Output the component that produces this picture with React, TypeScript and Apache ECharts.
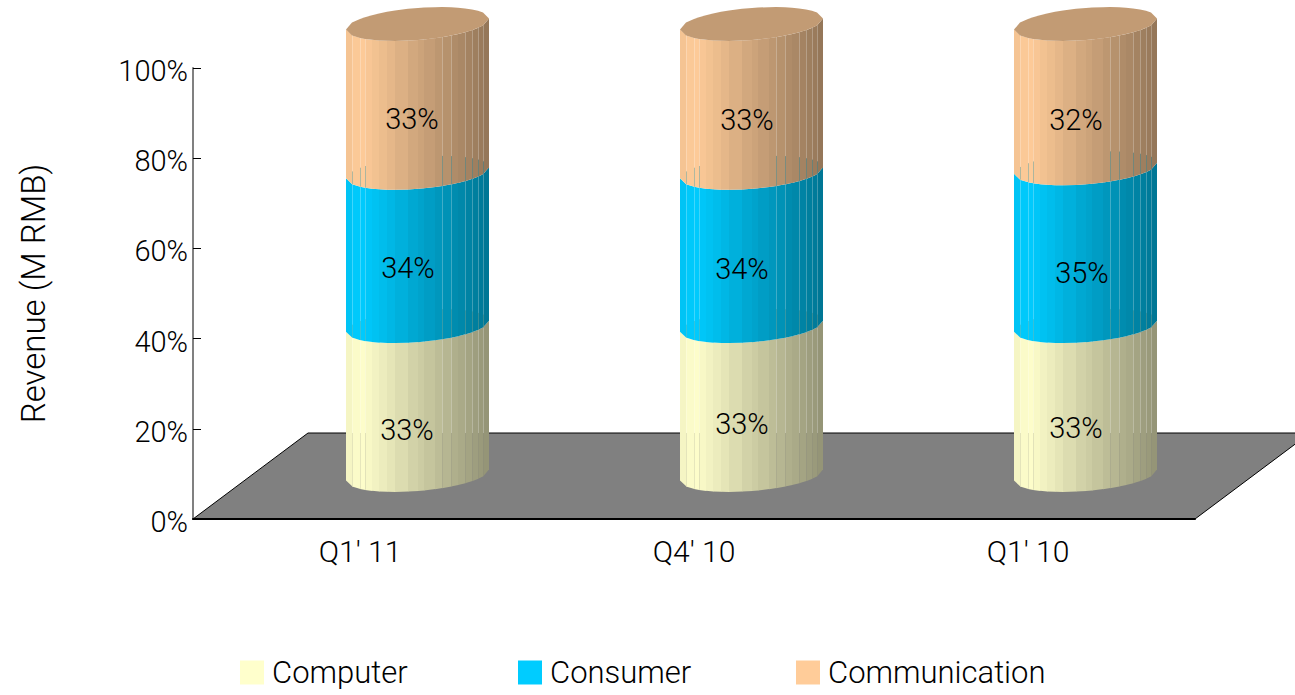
import React, { useEffect, useRef } from "react";
import * as echarts from "echarts";

const categories = ["Q1' 11", "Q4' 10", "Q1' 10"];
const computer = [33, 33, 33];
const consumer = [34, 34, 35];
const communication = [33, 33, 32];
const seriesNames = ["Computer", "Consumer", "Communication"];
const valueTicks = [0, 20, 40, 60, 80, 100];

// Presentation constants for the cylinders
const sectionColors = [
  [255, 255, 204],
  [0, 204, 255],
  [255, 204, 153],
];
const FONT = "Roboto";
const TEXT_WEIGHT = 300;
const CYL_SHIFT_X = 57.5;
const CYL_SHIFT_Y = -44;
const RADIUS_X = 71.5;
const RADIUS_Y = 16;
const TILT = 5.5;
const FLOOR_DX = 115;
const FLOOR_DY = -86;
const FLOOR_BACK_Y = 433;
const legendLefts = [235, 513, 791];
const facetEdges = [
  -71.5, -65.5, -57.5, -52.5, -45.5, -38.5, -30.5, -22.5, -9.5, 0.5, 6.5, 17.5, 24.5, 33.5, 40.5,
  47.5, 54.5, 60.5, 65.5, 71.5,
];
const seamEdges = [-65.5, -57.5, -52.5, 24.5, 33.5, 47.5, 54.5, 60.5, 65.5];
// Hand placement of the percentage labels: [dx, dy] per category and section
const labelShift = [
  [[47, 13], [48, 2], [52, 5]],
  [[48, 7], [48, 3], [53, 6]],
  [[48, 11], [54, 10], [48, 8]],
];

const stacks = [computer, consumer, communication];

const rimOffset = (dx: number, front: boolean) => {
  const c = Math.max(-1, Math.min(1, dx / RADIUS_X));
  const s = Math.sqrt(1 - c * c) * (front ? 1 : -1);
  return CYL_SHIFT_Y + RADIUS_Y * s - TILT * c;
};

const shade = (rgb: number[], k: number) =>
  `rgb(${rgb.map((v) => Math.round(v * k)).join(",")})`;

const facetLight = (dx: number) => {
  const x = dx + 57.5;
  if (x < 0) return 1 + x * 0.0035;
  return 1 - x * 0.0033;
};

const sectionBase = (section: number, cat: number) => {
  let sum = 0;
  for (let s = 0; s < section; s++) sum += stacks[s][cat];
  return sum;
};

const renderFloor = (params: any) => {
  const { x, y, width, height } = params.coordSys;
  const bottom = y + height;
  return {
    type: "polygon",
    shape: {
      points: [
        [x, bottom],
        [x + FLOOR_DX, bottom + FLOOR_DY],
        [x + width + FLOOR_DX, bottom + FLOOR_DY],
        [x + width, bottom],
      ],
    },
    style: { fill: "#808080", stroke: "#000", lineWidth: 1 },
  };
};

const renderSection = (section: number) => (_params: any, api: any) => {
  const cat = api.value(0);
  const base = sectionBase(section, cat);
  const top = base + api.value(1);
  const [cx0, yBase] = api.coord([cat, base]);
  const [, yTop] = api.coord([cat, top]);
  const cx = cx0 + CYL_SHIFT_X;
  const rgb = sectionColors[section];
  const children: any[] = [];
  for (let i = 0; i < facetEdges.length - 1; i++) {
    const a = facetEdges[i];
    const b = facetEdges[i + 1];
    const bOver = Math.min(b + 0.4, RADIUS_X);
    children.push({
      type: "polygon",
      shape: {
        points: [
          [cx + a, yTop + rimOffset(a, true)],
          [cx + bOver, yTop + rimOffset(bOver, true)],
          [cx + bOver, yBase + rimOffset(bOver, true)],
          [cx + a, yBase + rimOffset(a, true)],
        ],
      },
      style: { fill: shade(rgb, facetLight((a + b) / 2)) },
    });
  }
  if (section === stacks.length - 1) {
    const front = facetEdges.map((dx) => [cx + dx, yTop + rimOffset(dx, true)]);
    const back = [...facetEdges].reverse().map((dx) => [cx + dx, yTop + rimOffset(dx, false)]);
    children.push({
      type: "polygon",
      shape: { points: [...front, ...back] },
      style: { fill: shade(rgb, 0.76) },
    });
  }
  return { type: "group", children };
};

// Thin pale lines between facets, tinted by whatever sits behind the shell
const renderSeams = (_params: any, api: any) => {
  const cat = api.value(0);
  const [cx0] = api.coord([cat, 0]);
  const cx = cx0 + CYL_SHIFT_X;
  const children: any[] = [];
  const line = (x: number, y1: number, y2: number, stroke: string, opacity: number) => ({
    type: "line",
    shape: { x1: x, y1, x2: x, y2 },
    style: { stroke, lineWidth: 1, opacity },
  });
  seamEdges.forEach((dx) => {
    const x = Math.round(cx + dx) + 0.5;
    stacks.forEach((_, s) => {
      const base = sectionBase(s, cat);
      const yBase = api.coord([cat, base])[1];
      const yTop = api.coord([cat, base + stacks[s][cat]])[1];
      const yFront = yBase + rimOffset(dx, true);
      const yBack = yBase + rimOffset(dx, false);
      const yUp = yTop + rimOffset(dx, true);
      if (s === 0) {
        children.push(line(x, yUp, FLOOR_BACK_Y, "#fff", 0.25));
        children.push(line(x, FLOOR_BACK_Y, yFront, "#808080", 0.18));
      } else {
        children.push(line(x, yUp, yBack, "#fff", 0.25));
        children.push(line(x, yBack, yFront, shade(sectionColors[s - 1], 0.7), 0.3));
      }
    });
  });
  return { type: "group", children };
};

const renderLabel = (section: number) => (_params: any, api: any) => {
  const cat = api.value(0);
  const base = sectionBase(section, cat);
  const value = api.value(1);
  const [x, y] = api.coord([cat, base + value / 2]);
  const [dx, dy] = labelShift[cat][section];
  return {
    type: "text",
    style: {
      text: `${value}%`,
      x: x + dx,
      y: y + CYL_SHIFT_Y + RADIUS_Y + dy,
      align: "center",
      verticalAlign: "middle",
      fill: "#000",
      font: `${TEXT_WEIGHT} 29px ${FONT}`,
    },
  };
};

const rows = (values: number[]) => values.map((v, i) => [i, v]);

export default function App() {
  const ref = useRef<HTMLDivElement>(null);

  useEffect(() => {
    const chart = echarts.init(ref.current!, undefined, { renderer: "svg" });
    const sectionSeries = seriesNames.map((name, s) => ({
      name,
      type: "custom",
      z: 4,
      clip: false,
      silent: true,
      itemStyle: { color: shade(sectionColors[s], 1) },
      encode: { x: 0, y: 1 },
      data: rows(stacks[s]),
      renderItem: renderSection(s),
    }));
    const labelSeries = seriesNames.map((name, s) => ({
      name: `${name} share`,
      type: "custom",
      z: 6,
      clip: false,
      silent: true,
      encode: { x: 0, y: 1 },
      data: rows(stacks[s]),
      renderItem: renderLabel(s),
    }));
    chart.setOption({
      animation: false,
      backgroundColor: "#fff",
      textStyle: { fontFamily: FONT, fontWeight: TEXT_WEIGHT },
      grid: { left: 193, right: 100, top: 68, bottom: 176, outerBoundsMode: "none" },
      legend: seriesNames.map((name, s) => ({
        left: legendLefts[s],
        top: 652,
        itemWidth: 24,
        itemHeight: 24,
        itemGap: 0,
        selectedMode: false,
        data: [{ name, icon: "rect" }],
        textStyle: {
          fontFamily: FONT,
          fontWeight: TEXT_WEIGHT,
          fontSize: 31,
          color: "#000",
          padding: [4, 0, 0, 3],
        },
      })),
      xAxis: {
        type: "category",
        data: categories,
        z: 3,
        axisLine: { lineStyle: { color: "#000", width: 2 } },
        axisTick: { inside: true, length: 8, alignWithLabel: false, lineStyle: { color: "#000", width: 1 } },
        axisLabel: { fontFamily: FONT, fontWeight: TEXT_WEIGHT, fontSize: 30, color: "#000", margin: 17 },
      },
      yAxis: {
        type: "value",
        min: valueTicks[0],
        max: valueTicks[valueTicks.length - 1],
        interval: 20,
        name: "Revenue (M RMB)",
        nameLocation: "middle",
        nameRotate: 90,
        nameGap: 143,
        nameTextStyle: { fontFamily: FONT, fontWeight: TEXT_WEIGHT, fontSize: 33, color: "#000" },
        z: 3,
        splitLine: { show: false },
        axisLine: { show: true, lineStyle: { color: "#808080", width: 2 } },
        axisTick: { show: true, inside: true, length: 8, lineStyle: { color: "#000", width: 1 } },
        axisLabel: {
          color: "#000",
          margin: 5,
          formatter: "{v|{value}%}",
          rich: {
            v: {
              fontFamily: FONT,
              fontWeight: TEXT_WEIGHT,
              fontSize: 29,
              color: "#000",
              padding: [6, 0, 0, 0],
            },
          },
        },
      },
      series: [
        {
          name: "floor",
          type: "custom",
          z: 1,
          clip: false,
          silent: true,
          encode: { x: 0, y: 1 },
          data: [[0, 0]],
          renderItem: renderFloor,
        },
        ...sectionSeries,
        {
          name: "seams",
          type: "custom",
          z: 5,
          clip: false,
          silent: true,
          encode: { x: 0, y: 1 },
          data: rows(computer),
          renderItem: renderSeams,
        },
        ...labelSeries,
      ],
    });
    return () => chart.dispose();
  }, []);

  return (
    <div
      ref={ref}
      style={{ position: "fixed", left: 0, top: 0, width: 1295, height: 695, background: "#fff" }}
    />
  );
}
